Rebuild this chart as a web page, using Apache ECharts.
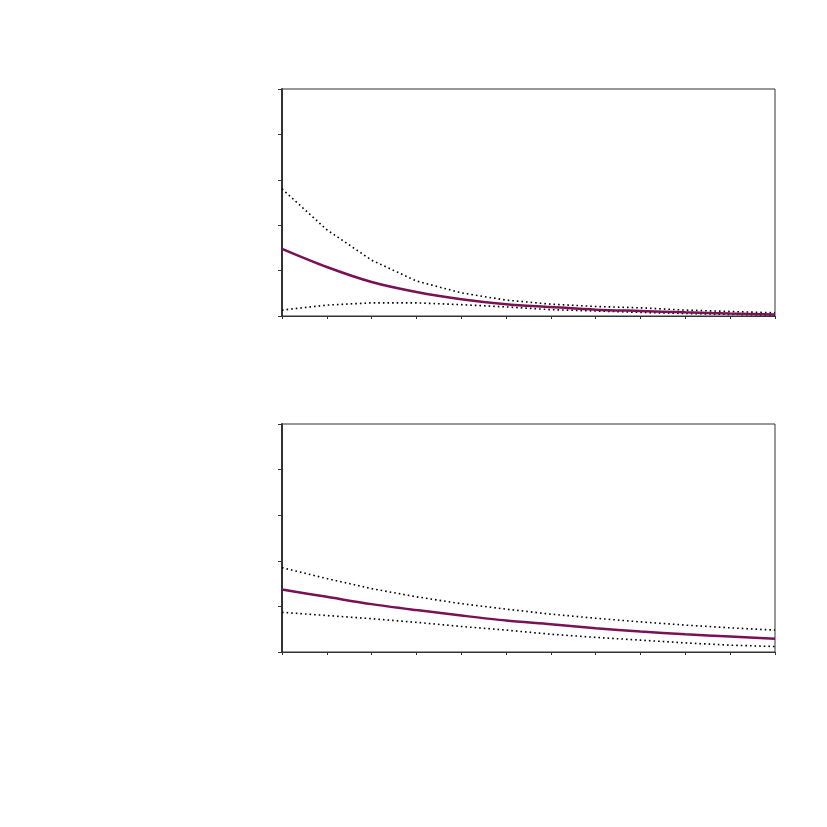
<!DOCTYPE html>
<html><head><meta charset="utf-8">
<script src="https://cdn.jsdelivr.net/npm/echarts@6/dist/echarts.min.js"></script>
<style>html,body{margin:0;padding:0;background:#fff}#c{width:827px;height:827px}</style>
</head><body><div id="c"></div>
<script>
const xs = [0,1,2,3,4,5,6,7,8,9,10,11];
const topMid = [1.48,1.08,0.75,0.53,0.37,0.26,0.20,0.14,0.11,0.08,0.055,0.035];
const topUp = [2.8,1.9,1.23,0.77,0.51,0.35,0.26,0.21,0.18,0.13,0.10,0.07];
const topLo = [0.13,0.24,0.29,0.29,0.25,0.20,0.14,0.11,0.08,0.055,0.035,0.02];
const botMid = [1.37,1.21,1.05,0.92,0.80,0.69,0.61,0.52,0.45,0.39,0.34,0.29];
const botUp = [1.85,1.61,1.39,1.21,1.06,0.94,0.83,0.74,0.66,0.59,0.53,0.48];
const botLo = [0.87,0.80,0.73,0.65,0.56,0.48,0.39,0.32,0.26,0.20,0.15,0.12];

const pair = a => a.map((v,i)=>[xs[i],v]);
const chart = echarts.init(document.getElementById('c'));
const mkX = gi => ({type:'value',gridIndex:gi,min:0,max:11,interval:1,
  axisLine:{lineStyle:{color:'#333',width:1}},axisTick:{show:true,length:3,lineStyle:{color:'#333'}},
  axisLabel:{show:false},splitLine:{show:false}});
const mkY = gi => ({type:'value',gridIndex:gi,min:0,max:5,interval:1,
  axisLine:{show:true,lineStyle:{color:'#333',width:2}},axisTick:{show:true,length:4,lineStyle:{color:'#333'}},
  axisLabel:{show:false},splitLine:{show:false}});
const dotted = (gi,d)=>({type:'line',xAxisIndex:gi,yAxisIndex:gi,data:pair(d),symbol:'none',
  lineStyle:{color:'#000',width:1.6,type:[1.6,3]},silent:true,z:2});
const solid = (gi,d)=>({type:'line',xAxisIndex:gi,yAxisIndex:gi,data:pair(d),symbol:'none',smooth:0.3,
  lineStyle:{color:'#7B1155',width:2.5},silent:true,z:3});
chart.setOption({
  animation:false,
  grid:[
    {left:282,right:52,top:89,height:227,show:true,borderColor:'#333',borderWidth:1},
    {left:282,right:52,top:424,height:228,show:true,borderColor:'#333',borderWidth:1}
  ],
  xAxis:[mkX(0),mkX(1)],
  yAxis:[mkY(0),mkY(1)],
  series:[
    dotted(0,topUp),dotted(0,topLo),solid(0,topMid),
    dotted(1,botUp),dotted(1,botLo),solid(1,botMid)
  ]
});
</script></body></html>
